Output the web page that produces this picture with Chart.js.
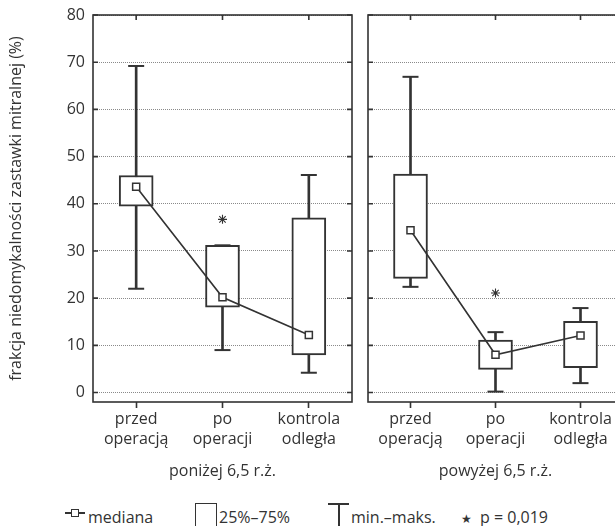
<!DOCTYPE html>
<html>
<head>
<meta charset="utf-8">
<script src="https://cdn.jsdelivr.net/npm/chart.js@4/dist/chart.umd.min.js"></script>
<style>
html,body{margin:0;padding:0;width:615px;height:526px;overflow:hidden;background:#fff;}
body{position:relative;font-family:"Open Sans",sans-serif;color:#333;}
#w1{position:absolute;left:0;top:0;width:362px;height:500px;}
#w2{position:absolute;left:358px;top:0;width:275px;height:500px;}
.lt{position:absolute;top:509px;font-size:16px;line-height:16px;white-space:nowrap;color:#333;}
.ic{position:absolute;box-sizing:border-box;}
</style>
</head>
<body>
<div id="w1"><canvas id="c1" width="362" height="500"></canvas></div>
<div id="w2"><canvas id="c2" width="275" height="500"></canvas></div>

<!-- legend -->
<div class="ic" style="left:65px;top:512px;width:20px;height:1.5px;background:#333;"></div>
<div class="ic" style="left:71px;top:509px;width:8px;height:8px;border:1.5px solid #333;background:#fff;"></div>
<div class="lt" id="l1" style="left:88px;"></div>
<div class="ic" style="left:195px;top:503px;width:22px;height:30px;border:1.5px solid #333;background:#fff;"></div>
<div class="lt" id="l2" style="left:219px;"></div>
<div class="ic" style="left:328px;top:503px;width:21px;height:2px;background:#333;"></div>
<div class="ic" style="left:337.5px;top:503px;width:2px;height:30px;background:#333;"></div>
<div class="lt" id="l3" style="left:351px;"></div>
<div class="lt" id="l4" style="left:461px;font-family:'DejaVu Sans',sans-serif;font-size:12px;top:511px;"></div>
<div class="lt" id="l5" style="left:480px;"></div>

<script>
// ---- data ----
const categories = [['przed', 'operacją'], ['po', 'operacji'], ['kontrola', 'odległa']];
const groupLabels = ['poniżej 6,5 r.ż.', 'powyżej 6,5 r.ż.'];
const yTitle = 'frakcja niedomykalności zastawki mitralnej (%)';
const legendLabels = ['mediana', '25%–75%', 'min.–maks.', '★', 'p = 0,019'];

// poniżej 6,5 r.ż.
const minLow = [22, 9, 4.2];
const q1Low = [39.5, 18.1, 8];
const medLow = [43.6, 20.2, 12.2];
const q3Low = [46, 31.2, 37];
const maxLow = [69.2, 31.2, 46.1];
const starLow = [null, 36.7, null];

// powyżej 6,5 r.ż.
const minHigh = [22.4, 0.2, 2.0];
const q1High = [24.2, 4.9, 5.3];
const medHigh = [34.4, 8.0, 12.1];
const q3High = [46.3, 11.1, 15.1];
const maxHigh = [66.9, 12.8, 17.9];
const starHigh = [null, 21.1, null];

const yMin = -2, yMax = 80, yStep = 10;

// ---- styling ----
const INK = '#333';
const FONT = {family: '"Open Sans", sans-serif', size: 16, lineHeight: 1.25};

['l1','l2','l3','l4','l5'].forEach((id, i) => document.getElementById(id).textContent = legendLabels[i]);

function makeDatasets(mn, q1, med, q3, mx, star) {
  return [
    {type: 'bar', data: mn.map((v, i) => [v, mx[i]]), backgroundColor: INK, borderWidth: 0,
     barThickness: 2, grouped: false, order: 6},
    {type: 'line', data: mx, showLine: false, pointStyle: 'line', pointRadius: 8,
     pointBorderColor: INK, pointBorderWidth: 2, order: 5.5},
    {type: 'bar', data: q1.map((v, i) => [v, q3[i]]), backgroundColor: '#fff', borderColor: INK,
     borderWidth: 2, borderSkipped: false, barThickness: 34, grouped: false, order: 5},
    {type: 'line', data: mn, showLine: false, pointStyle: 'line', pointRadius: 8,
     pointBorderColor: INK, pointBorderWidth: 2, order: 3},
    {type: 'line', data: med, borderColor: INK, borderWidth: 1.6, pointStyle: 'rect', pointRadius: 5,
     pointBackgroundColor: '#fff', pointBorderColor: INK, pointBorderWidth: 1.5, order: 1},
    {type: 'line', data: star, showLine: false, pointStyle: 'star', pointRadius: 4.5,
     pointBorderColor: INK, pointBorderWidth: 1.1, order: 0}
  ];
}

const framePlugin = {
  id: 'frame',
  afterDatasetsDraw(chart) {
    const {ctx, chartArea: a, scales: {x, y}} = chart;
    ctx.save();
    ctx.strokeStyle = INK;
    ctx.lineWidth = 1.6;
    ctx.strokeRect(a.left, a.top, a.right - a.left, a.bottom - a.top);
    ctx.beginPath();
    y.ticks.forEach(t => {
      const py = y.getPixelForValue(t.value);
      ctx.moveTo(a.left, py); ctx.lineTo(a.left + 5, py);
      ctx.moveTo(a.right, py); ctx.lineTo(a.right - 5, py);
    });
    x.ticks.forEach((t, i) => {
      const px = x.getPixelForTick(i);
      ctx.moveTo(px, a.top); ctx.lineTo(px, a.top + 5);
    });
    ctx.stroke();
    ctx.restore();
  }
};

function makeChart(id, data, groupLabel, showY, yWidth, padRight) {
  const H = 500;
  return new Chart(document.getElementById(id), {
    data: {labels: categories, datasets: makeDatasets(...data)},
    plugins: [framePlugin],
    options: {
      responsive: false,
      animation: false,
      events: [],
      layout: {padding: {top: 15, right: padRight, left: 0, bottom: 0}},
      plugins: {legend: {display: false}, tooltip: {enabled: false}},
      scales: {
        x: {
          type: 'category',
          offset: true,
          grid: {display: true, offset: false, drawOnChartArea: false, drawTicks: true,
                 tickLength: 6, tickColor: INK, tickWidth: 1.6},
          border: {display: false},
          ticks: {color: INK, font: FONT, padding: 1, maxRotation: 0, autoSkip: false},
          title: {display: true, text: groupLabel, color: INK, font: {family: FONT.family, size: 16},
                  padding: {top: 0, bottom: 19}},
          afterFit(s) { s.height = H - 402; s.paddingLeft = 0; s.paddingRight = 0; }
        },
        y: {
          min: yMin, max: yMax,
          ticks: {stepSize: yStep, includeBounds: false, display: showY, color: INK,
                  font: {family: FONT.family, size: 16}, padding: 8},
          grid: {color: '#8a8a8a', lineWidth: 1, drawTicks: false},
          border: {display: false, dash: [1, 1]},
          title: {display: showY, text: yTitle, color: INK, font: {family: FONT.family, size: 16},
                  padding: {top: 7, bottom: 0}},
          afterFit(s) { s.width = yWidth; s.paddingTop = 0; s.paddingBottom = 0; }
        }
      }
    }
  });
}

makeChart('c1', [minLow, q1Low, medLow, q3Low, maxLow, starLow], groupLabels[0], true, 93, 9);
makeChart('c2', [minHigh, q1High, medHigh, q3High, maxHigh, starHigh], groupLabels[1], false, 7, 8);
</script>
</body>
</html>
